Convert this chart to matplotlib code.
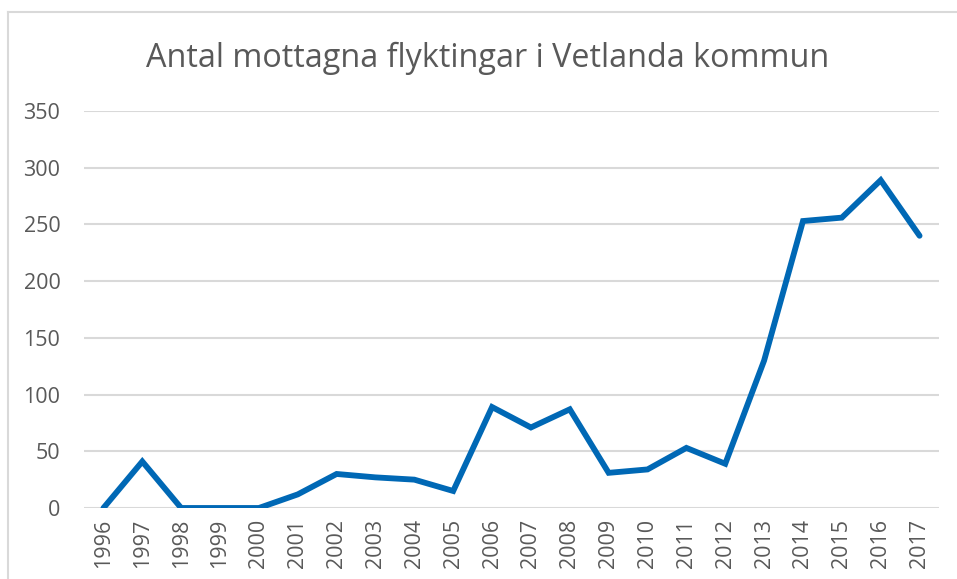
import matplotlib
matplotlib.use('Agg')
from matplotlib import pyplot as plt
from matplotlib.lines import Line2D

years = [1996, 1997, 1998, 1999, 2000, 2001, 2002, 2003, 2004, 2005, 2006,
         2007, 2008, 2009, 2010, 2011, 2012, 2013, 2014, 2015, 2016, 2017]
refugees = [0, 41, 0, 0, 0, 12, 30, 27, 25, 15, 89,
            71, 87, 31, 34, 53, 39, 130, 253, 256, 289, 240]
yticks = [0, 50, 100, 150, 200, 250, 300, 350]
title = 'Antal mottagna flyktingar i Vetlanda kommun'

textColor = '#595959'
gridColor = '#D9D9D9'
lineColor = '#0068B5'

plt.rcParams['font.family'] = ['Open Sans', 'DejaVu Sans']

fig = plt.figure(figsize=(9.57, 5.79), dpi=100)
ax = fig.add_axes([84 / 957, 1 - 508 / 579, (939 - 84) / 957, (508 - 111) / 579])

x = list(range(len(years)))
ax.plot(x, refugees, color=lineColor, linewidth=4.2, solid_joinstyle='miter',
        solid_capstyle='round', zorder=3)

ax.set_xlim(-0.5, len(years) - 0.5)
ax.set_ylim(0, 350)
ax.set_yticks(yticks)
ax.set_yticklabels([str(v) for v in yticks])
ax.set_xticks(x)
ax.set_xticklabels([str(y) for y in years], rotation=90)
ax.yaxis.grid(True, color=gridColor, linewidth=1.5)
ax.set_axisbelow(True)
for s in ax.spines.values():
    s.set_visible(False)
ax.tick_params(axis='both', length=0, labelsize=15.5, colors=textColor)
ax.tick_params(axis='y', pad=17)
ax.tick_params(axis='x', pad=8)

fig.text(488 / 957, 1 - 58 / 579, title, ha='center', va='center',
         fontsize=23.3, color=textColor)

# chart frame (only top and left edges visible in the crop)
fig.add_artist(Line2D([8 / 957, 8 / 957], [0, 1 - 12 / 579], color=gridColor,
                      linewidth=1.5, transform=fig.transFigure))
fig.add_artist(Line2D([8 / 957, 1], [1 - 12 / 579, 1 - 12 / 579], color=gridColor,
                      linewidth=1.5, transform=fig.transFigure))

fig.savefig('out.png', dpi=100)
